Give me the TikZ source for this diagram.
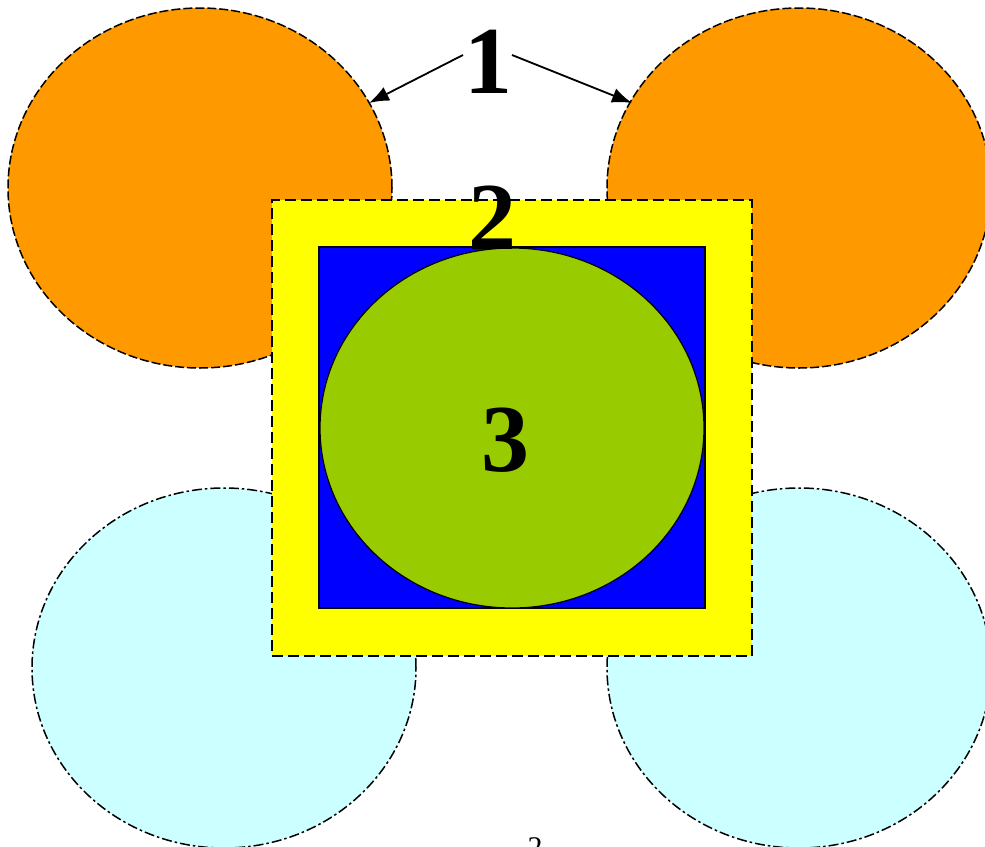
\documentclass[tikz,border=0pt]{standalone}
\usepackage{fontspec}
\setmainfont{Liberation Serif}
\usetikzlibrary{shapes.geometric,arrows.meta}
\definecolor{orangefill}{RGB}{255,153,0}
\definecolor{cyanfill}{RGB}{204,255,255}
\definecolor{yellowfill}{RGB}{255,255,0}
\definecolor{bluefill}{RGB}{0,0,255}
\definecolor{greenfill}{RGB}{153,204,0}
\tikzset{
  blob/.style={ellipse, inner sep=0pt, minimum width=384pt, minimum height=360pt, line width=1.5pt},
  orangeblob/.style={blob, fill=orangefill, draw=black, dash pattern=on 9pt off 3pt},
  cyanblob/.style={blob, fill=cyanfill, draw=black, dash pattern=on 10pt off 3pt on 2.5pt off 3pt},
  bignum/.style={font=\fontsize{96}{96}\selectfont\bfseries, inner sep=0pt},
  pointer/.style={-{Latex[length=20pt,width=15pt]}, line width=1.8pt}
}
\begin{document}
\begin{tikzpicture}[x=1pt,y=-1pt]
\useasboundingbox (0,0) rectangle (985,846);
\node[orangeblob] (o1) at (200,188) {};
\node[orangeblob] (o2) at (799,188) {};
\node[cyanblob] (c1) at (224,668) {};
\node[cyanblob] (c2) at (799,668) {};
\node[draw=black, fill=yellowfill, line width=1.5pt, dash pattern=on 11pt off 5pt, minimum width=480pt, minimum height=456pt, inner sep=0pt] (sq) at (512,428) {};
\node[draw=black, fill=bluefill, line width=1.5pt, minimum width=386pt, minimum height=361pt, inner sep=0pt] (bl) at (512,427.5) {};
\node[ellipse, draw=black, fill=greenfill, line width=1.2pt, minimum width=384pt, minimum height=360pt, inner sep=0pt] (gr) at (512,428) {};
\node[bignum] (one) at (488,62) {1};
\node[bignum] (two) at (492,218) {2};
\node[bignum] (three) at (505,440) {3};
\node[font=\fontsize{30}{30}\selectfont, anchor=north, inner sep=0pt] (sup) at (535,837) {2};
\coordinate (s1) at (463,55);
\coordinate (t1) at (369,103);
\coordinate (s2) at (512,55);
\coordinate (t2) at (632,103);
\draw[pointer] (s1) -- (t1);
\draw[pointer] (s2) -- (t2);
\end{tikzpicture}
\end{document}
